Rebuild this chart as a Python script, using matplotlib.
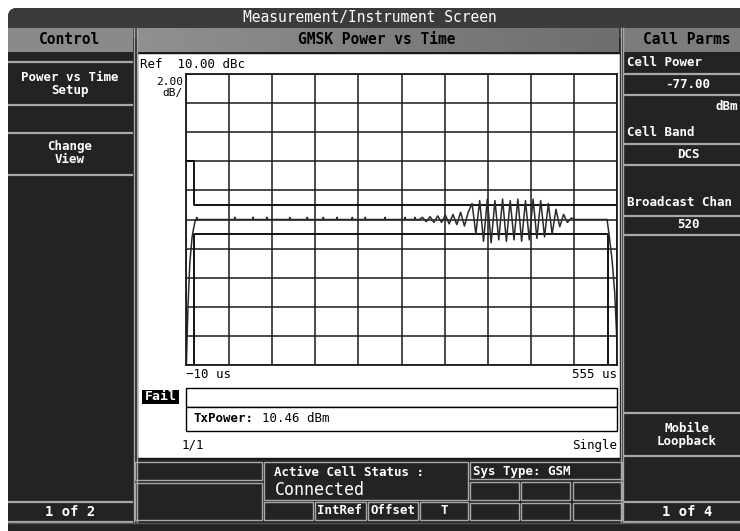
import matplotlib

matplotlib.use("Agg")
import matplotlib.pyplot as plt
import numpy as np
from matplotlib.patches import Rectangle, FancyBboxPatch

# power vs time trace (us, dB relative to ref)
rise_t = [-9.5, -8.5, -7.4, -5.0, -2.0, 0.0, 2.0, 4.0]
rise_db = [-10.0, -8.0, -6.0, -3.0, -1.2, -0.6, -0.1, 0.0]
spike_t = [4, 54, 78, 96, 126, 149, 170, 188, 208, 225, 251, 277, 290]
osc_t = [296, 300, 305, 310, 315, 320, 325, 330, 335, 340, 345, 350, 355, 360,
         365, 370, 375, 380, 385, 390, 395, 400, 405, 410, 415, 420, 425, 430,
         435, 440, 445, 450, 455, 460, 465, 470, 475, 480, 485, 490, 495, 500]
osc_db = [0.0, 0.15, -0.15, 0.2, -0.2, 0.25, -0.2, 0.3, -0.3, 0.35, -0.35, 0.5, -0.45, 0.5,
          1.1, -1.0, 1.3, -1.5, 1.4, -1.6, 1.3, -1.4, 1.4, -1.5, 1.3, -1.4, 1.4, -1.5,
          1.3, -1.4, 1.4, -1.3, 1.3, -1.2, 1.1, -1.0, 0.7, -0.5, 0.35, -0.2, 0.1, 0.0]
fall_t = [540, 542, 545, 548.6, 552, 555]
fall_db = [0.0, 0.0, -1.2, -2.8, -5.0, -8.5]

# limit masks
upper_t = [-10, 0, 0, 555]
upper_db = [4, 4, 1, 1]
lower_t = [0, 0, 543, 543]
lower_db = [-10, -1, -1, -10]

x_min, x_max = -10, 555
ref_db, db_div = 10.0, 2.0

W, H = 740, 531
DARK = "#232323"
SEP = "#a8a8a8"
MONO = ["DejaVu Sans Mono"]

fig = plt.figure(figsize=(W / 100, H / 100), dpi=100)
fig.patch.set_facecolor("white")
ui = fig.add_axes([0, 0, 1, 1])
ui.set_xlim(0, W)
ui.set_ylim(H, 0)
ui.axis("off")


def rect(x0, y0, x1, y1, fc, ec="none", lw=1.0, z=1):
    ui.add_patch(Rectangle((x0, y0), x1 - x0, y1 - y0, facecolor=fc,
                           edgecolor=ec, linewidth=lw, zorder=z))


def hsep(x0, x1, y, color=SEP, lw=1.6):
    ui.plot([x0, x1], [y, y], color=color, lw=lw, zorder=3, solid_capstyle="butt")


def txt(x, y, s, size=9, color="white", weight="bold", ha="center", **kw):
    ui.text(x, y, s, fontsize=size, color=color, fontweight=weight, ha=ha,
            va="center", family=MONO, zorder=5, **kw)


# screen body with rounded corner
ui.add_patch(FancyBboxPatch((8, 8), 800, 600, boxstyle="round,pad=0,rounding_size=9",
                            facecolor=DARK, edgecolor="none", zorder=0))
ui.add_patch(FancyBboxPatch((8, 8), 800, 30, boxstyle="round,pad=0,rounding_size=9",
                            facecolor="#3b3b3b", edgecolor="none", zorder=0.6))
rect(8, 20, 760, 27.5, "#3b3b3b", z=0.7)
txt(370, 17.5, "Measurement/Instrument Screen", size=10.5, weight="normal")

# headers
rect(8, 28, 133, 52, "#8a8a8a", z=1)
txt(70, 40, "Control", size=10.5, color="black")
grad = np.linspace(0, 1, 256).reshape(1, -1)
ui.imshow(grad, extent=[137, 619, 52, 28], cmap=matplotlib.colors.LinearSegmentedColormap.from_list(
    "hdr", ["#909090", "#6e6e6e"]), aspect="auto", zorder=1)
txt(377, 40, "GMSK Power vs Time", size=10.5, color="black")
rect(624, 28, 760, 52, "#7c7c7c", z=1)
txt(687, 40, "Call Parms", size=10.5, color="black")
ui.set_xlim(0, W)
ui.set_ylim(H, 0)

# column dividers
for xv in (134, 136.5, 620.5, 623):
    ui.plot([xv, xv], [28, 523], color=SEP, lw=1.0, zorder=3)

# left soft keys
for yv in (62, 105, 133, 175, 502, 522):
    hsep(8, 133, yv)
txt(70, 84, "Power vs Time\nSetup", size=9, linespacing=1.0)
txt(70, 153, "Change\nView", size=9, linespacing=1.0)
txt(70, 512, "1 of 2", size=10)

# right call parameters
for yv in (74, 95, 144, 165, 216, 235, 413, 456, 502, 522):
    hsep(623, 760, yv)
txt(627, 62, "Cell Power", size=9, ha="left")
txt(688, 84, "-77.00", size=9)
txt(738, 106, "dBm", size=9, ha="right")
txt(627, 133, "Cell Band", size=9, ha="left")
txt(688, 155, "DCS", size=9)
txt(627, 203, "Broadcast Chan", size=9, ha="left")
txt(688, 225, "520", size=9)
txt(687, 435, "Mobile\nLoopback", size=9, linespacing=1.0)
txt(687, 512, "1 of 4", size=10)

# status boxes along the bottom
boxes = [(135, 462, 262, 480), (135, 483, 262, 520), (264, 462, 468, 500),
         (264, 502, 313, 520), (315, 502, 366, 520), (368, 502, 418, 520),
         (420, 502, 468, 520), (470, 462, 622, 479),
         (470, 482, 519, 500), (521, 482, 570, 500), (573, 482, 622, 500),
         (470, 503, 519, 520), (521, 503, 570, 520), (573, 503, 622, 520)]
for x0, y0, x1, y1 in boxes:
    rect(x0, y0, x1, y1, DARK, ec=SEP, lw=1.0, z=2)
txt(274, 472, "Active Cell Status :", size=9, ha="left")
txt(275, 490, "Connected", size=12, weight="normal", ha="left")
txt(340, 511, "IntRef", size=9)
txt(393, 511, "Offset", size=9)
txt(444, 511, "T", size=9)
txt(473, 471, "Sys Type: GSM", size=9, ha="left")
hsep(8, 760, 523, color="#555555", lw=1.0)

# white measurement panel
rect(137, 53, 620, 457.5, "white", ec="#111111", lw=1.0, z=1)
txt(140, 64, "Ref  10.00 dBc", size=9, color="black", weight="normal", ha="left")
txt(183, 82, "2.00", size=8, color="black", weight="normal", ha="right")
txt(183, 93, "dB/", size=8, color="black", weight="normal", ha="right")
txt(186, 375, "\u221210 us", size=9, color="black", weight="normal", ha="left")
txt(617, 375, "555 us", size=9, color="black", weight="normal", ha="right")
rect(142, 390, 179, 404, "black", z=2)
txt(160.5, 397, "Fail", size=9.5)
rect(186, 388, 617, 407, "white", ec="black", lw=1.0, z=2)
rect(186, 407, 617, 431, "white", ec="black", lw=1.0, z=2)
txt(193, 419, "TxPower:", size=9, color="black", ha="left")
txt(262, 419, "10.46 dBm", size=9, color="black", weight="normal", ha="left")
txt(182, 445, "1/1", size=9, color="black", weight="normal", ha="left")
txt(617, 446, "Single", size=9, color="black", weight="normal", ha="right")

# trace plot
ax = fig.add_axes([186 / W, 1 - 365 / H, 431 / W, 291 / H])
ax.set_facecolor("none")
ax.set_xlim(x_min, x_max)
ax.set_ylim(ref_db - 10 * db_div, ref_db)
ax.set_xticks(np.linspace(x_min, x_max, 11))
ax.set_yticks(np.arange(ref_db - 10 * db_div, ref_db + 0.1, db_div))
ax.grid(True, color="#1a1a1a", lw=1.1)
ax.tick_params(length=0, labelbottom=False, labelleft=False)
for sp in ax.spines.values():
    sp.set_color("#1a1a1a")
    sp.set_linewidth(1.3)

flat_t, flat_db = [], []
for st in spike_t:
    flat_t += [st - 0.6, st, st + 0.6]
    flat_db += [0.0, 0.15, 0.0]
trace_t = rise_t + flat_t + osc_t + fall_t
trace_db = rise_db + flat_db + osc_db + fall_db
ax.plot(upper_t, upper_db, color="black", lw=1.3)
ax.plot(lower_t, lower_db, color="black", lw=1.3)
ax.plot(trace_t, trace_db, color="#2a2a2a", lw=1.1)

fig.savefig("out.png", dpi=100, facecolor=fig.get_facecolor())
